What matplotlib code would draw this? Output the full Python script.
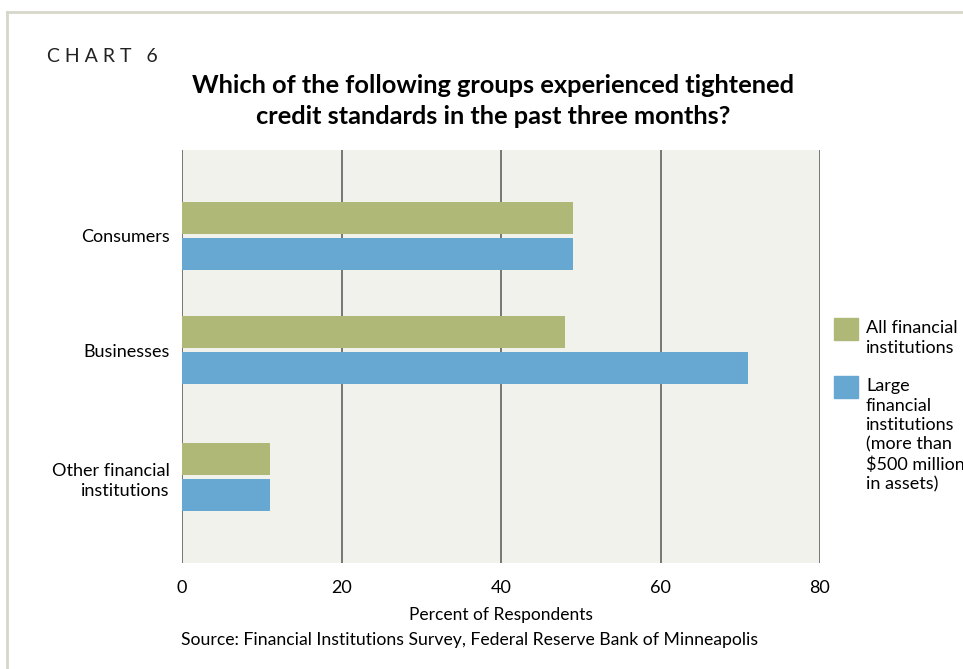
import matplotlib.pyplot as plt
from matplotlib.lines import Line2D
from matplotlib.patches import Rectangle

plt.rcParams['font.family'] = ['Lato', 'DejaVu Sans']

categories = ['Consumers', 'Businesses', 'Other financial\ninstitutions']
all_fi = [49, 48, 11]
large_fi = [49, 71, 11]
series_names = ['All financial\ninstitutions',
                'Large\nfinancial\ninstitutions\n(more than\n$500 million\nin assets)']
xticks = [0, 20, 40, 60, 80]

green = '#b0b878'
blue = '#67a8d2'

W, H = 963, 669
fig = plt.figure(figsize=(W / 100, H / 100), dpi=100)
fig.patch.set_facecolor('white')

# plot area in pixels
x0, x1, ytop, ybot = 182, 820, 150, 563
ax = fig.add_axes([x0 / W, 1 - ybot / H, (x1 - x0) / W, (ybot - ytop) / H])
ax.set_facecolor('#f2f2ec')

ypos = [0, 1, 2.11]
h = 0.28
off = 0.157
ax.barh([y - off for y in ypos], all_fi, height=h, color=green, zorder=3)
ax.barh([y + off for y in ypos], large_fi, height=h, color=blue, zorder=3)

ax.set_xlim(0, 80)
ax.set_ylim(2.86, -0.75)
for v in xticks:
    ax.axvline(v, color='#555555', lw=1.1, zorder=1)

for s in ax.spines.values():
    s.set_visible(False)
ax.set_xticks(xticks)
ax.set_xticklabels([str(v) for v in xticks], fontsize=13)
ax.tick_params(axis='x', length=0, pad=12)
ax.set_yticks(ypos)
ax.set_yticklabels(categories, fontsize=13, linespacing=1.3)
ax.tick_params(axis='y', length=0, pad=9)
ax.set_xlabel('Percent of Respondents', fontsize=12.5, labelpad=8)

fig.text(470 / W, 1 - 640 / H, 'Source: Financial Institutions Survey, Federal Reserve Bank of Minneapolis',
         ha='center', va='center', fontsize=12.7)

fig.text(47 / W, 1 - 56 / H, 'C H A R T   6', ha='left', va='center', fontsize=14, color='#222222')
fig.text(493 / W, 1 - 101 / H,
         'Which of the following groups experienced tightened\ncredit standards in the past three months?',
         ha='center', va='center', fontsize=18.3, fontweight='bold', linespacing=1.45)

# legend drawn by hand to the right of the plot
for (top, color, label) in [(318, green, series_names[0]), (376, blue, series_names[1])]:
    fig.patches.append(Rectangle((834 / W, 1 - (top + 22) / H), 24 / W, 22 / H,
                                 transform=fig.transFigure, color=color))
    fig.text(866 / W, 1 - (top + 2) / H, label, ha='left', va='top',
             fontsize=13, linespacing=1.27)

# thin frame around the panel
fig.lines.append(Line2D([7 / W, 1], [1 - 12 / H, 1 - 12 / H], transform=fig.transFigure,
                        color='#d6d6ca', lw=2))
fig.lines.append(Line2D([7 / W, 7 / W], [0, 1 - 12 / H], transform=fig.transFigure,
                        color='#d6d6ca', lw=2))

fig.savefig('out.png', dpi=100)
